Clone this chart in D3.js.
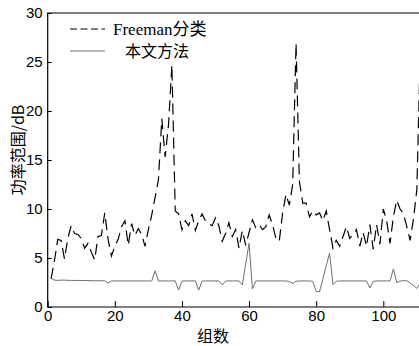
<!DOCTYPE html>
<html><head><meta charset="utf-8">
<script src="https://cdn.jsdelivr.net/npm/d3@7"></script>
<style>body{margin:0;background:#fff}svg{display:block}</style>
</head><body>
<svg id="chart" width="419" height="346"></svg>
<script>
const xTickValues = [0, 20, 40, 60, 80, 100];
const yTickValues = [0, 5, 10, 15, 20, 25, 30];
const seriesNames = ["Freeman分类", "本文方法"];
const xLabel = "组数";
const yLabel = "功率范围/dB";

const freemanValues = [
  2.9, 4.7, 6.9, 6.8, 4.9, 7.0, 8.3, 7.5, 7.4, 7.0,
  6.0, 6.5, 5.6, 4.8, 7.2, 7.3, 9.6, 6.9, 5.2, 6.2,
  6.9, 8.2, 8.8, 6.3, 8.5, 7.3, 8.0, 7.4, 6.2, 7.9,
  9.4, 11.2, 13.0, 19.2, 15.3, 18.6, 24.7, 9.8, 9.5, 7.9,
  8.8, 8.3, 9.5, 7.8, 8.8, 9.5, 8.8, 8.5, 8.3, 9.1,
  8.3, 6.7, 7.5, 8.6, 7.2, 7.9, 6.0, 7.8, 6.3, 7.6,
  8.9, 8.1, 8.4, 7.9, 8.2, 9.4, 8.4, 7.0, 6.7, 9.6,
  11.5, 10.4, 12.5, 26.9, 12.8, 10.6, 10.6, 9.2, 9.8, 9.4,
  9.6, 8.8, 9.8, 7.9, 6.0, 6.8, 6.2, 7.2, 8.2, 7.0,
  7.4, 7.9, 6.2, 7.6, 6.2, 8.4, 5.9, 8.4, 6.4, 10.0,
  8.8, 6.5, 9.2, 10.9, 10.0, 9.5, 8.2, 6.8, 9.0, 12.0,
  26.0
];

const proposedValues = [
  2.95, 2.74, 2.72, 2.74, 2.74, 2.72, 2.72, 2.7, 2.72, 2.7,
  2.7, 2.7, 2.68, 2.68, 2.68, 2.68, 2.68, 2.45, 2.66, 2.66,
  2.66, 2.66, 2.66, 2.66, 2.66, 2.66, 2.66, 2.66, 2.66, 2.66,
  2.65, 3.7, 2.65, 2.66, 2.66, 2.66, 2.66, 2.66, 1.73, 2.65,
  2.66, 2.66, 2.66, 2.66, 1.73, 2.65, 2.66, 2.66, 2.66, 2.66,
  2.66, 2.25, 2.65, 2.66, 2.66, 2.66, 2.66, 2.25, 4.4, 6.5,
  1.85, 2.65, 2.66, 2.66, 2.66, 2.66, 2.66, 2.66, 2.66, 2.66,
  2.66, 2.6, 2.4, 2.62, 2.66, 2.66, 2.66, 2.66, 2.62, 1.6,
  1.55, 2.87, 4.2, 5.5, 2.3, 2.62, 2.66, 2.66, 2.66, 2.66,
  2.66, 2.66, 2.66, 2.66, 2.66, 1.95, 2.62, 2.66, 2.66, 2.66,
  2.66, 2.66, 3.88, 2.5, 2.65, 2.68, 2.68, 2.45, 2.2, 1.9,
  2.45
];
const groupIndex = freemanValues.map((d, i) => i + 1);

const svg = d3.select("#chart");
const plotLeft = 47.7, plotTop = 13, plotBottom = 307, pxPerUnit = 3.356;
const x = d3.scaleLinear().domain([0, 112]).range([plotLeft, plotLeft + 112 * pxPerUnit]);
const y = d3.scaleLinear().domain([0, 30]).range([plotBottom, plotTop]);

svg.append("defs").append("clipPath").attr("id", "plotclip")
  .append("rect").attr("x", plotLeft).attr("y", plotTop).attr("width", 419 - plotLeft).attr("height", plotBottom - plotTop);

const xAxis = d3.axisBottom(x).tickValues(xTickValues).tickSizeInner(-6).tickSizeOuter(0).tickPadding(3);
const yAxis = d3.axisLeft(y).tickValues(yTickValues).tickSizeInner(-4).tickSizeOuter(0).tickPadding(5);

const gx = svg.append("g").attr("transform", `translate(0,${plotBottom})`).call(xAxis);
const gy = svg.append("g").attr("transform", `translate(${plotLeft},0)`).call(yAxis);
[gx, gy].forEach(g => {
  g.select(".domain").remove();
  g.selectAll(".tick line").attr("stroke", "#000").attr("stroke-width", 1);
  g.selectAll(".tick text").attr("fill", "#000")
    .style("font-family", "'Liberation Sans', Arial, sans-serif").style("font-size", "15px");
});

svg.append("path")
  .attr("d", `M${x(112)},${plotTop}H${plotLeft}V${plotBottom}H${x(112)}`)
  .attr("fill", "none").attr("stroke", "#000").attr("stroke-width", 1.2);

const line = d3.line().x((d, i) => x(groupIndex[i])).y(d => y(d));

const plot = svg.append("g").attr("clip-path", "url(#plotclip)");
plot.append("path").datum(proposedValues)
  .attr("d", line).attr("fill", "none").attr("stroke", "#6e6e6e").attr("stroke-width", 1);
plot.append("path").datum(freemanValues)
  .attr("d", line).attr("fill", "none").attr("stroke", "#000").attr("stroke-width", 1.2)
  .attr("stroke-dasharray", "11,6");

const lg = svg.append("g");
lg.append("line").attr("x1", 70).attr("x2", 105).attr("y1", 29).attr("y2", 29)
  .attr("stroke", "#000").attr("stroke-width", 1.2).attr("stroke-dasharray", "7,3.5");
lg.append("text").attr("x", 113).attr("y", 35).text(seriesNames[0])
  .style("font-family", "'Liberation Serif', 'Noto Sans CJK SC', serif").style("font-size", "17px");
lg.append("line").attr("x1", 70).attr("x2", 105).attr("y1", 51).attr("y2", 51)
  .attr("stroke", "#6e6e6e").attr("stroke-width", 1);
lg.append("text").attr("x", 125).attr("y", 57).text(seriesNames[1])
  .style("font-family", "'Noto Sans CJK SC', serif").style("font-size", "16px");

svg.append("text").attr("x", 213).attr("y", 342).attr("text-anchor", "middle").text(xLabel)
  .style("font-family", "'Noto Sans CJK SC', sans-serif").style("font-size", "16px");
svg.append("text").attr("transform", "translate(24,150) rotate(-90)").attr("text-anchor", "middle").text(yLabel)
  .style("font-family", "'Noto Sans CJK SC', sans-serif").style("font-size", "16px");
</script>
</body></html>
